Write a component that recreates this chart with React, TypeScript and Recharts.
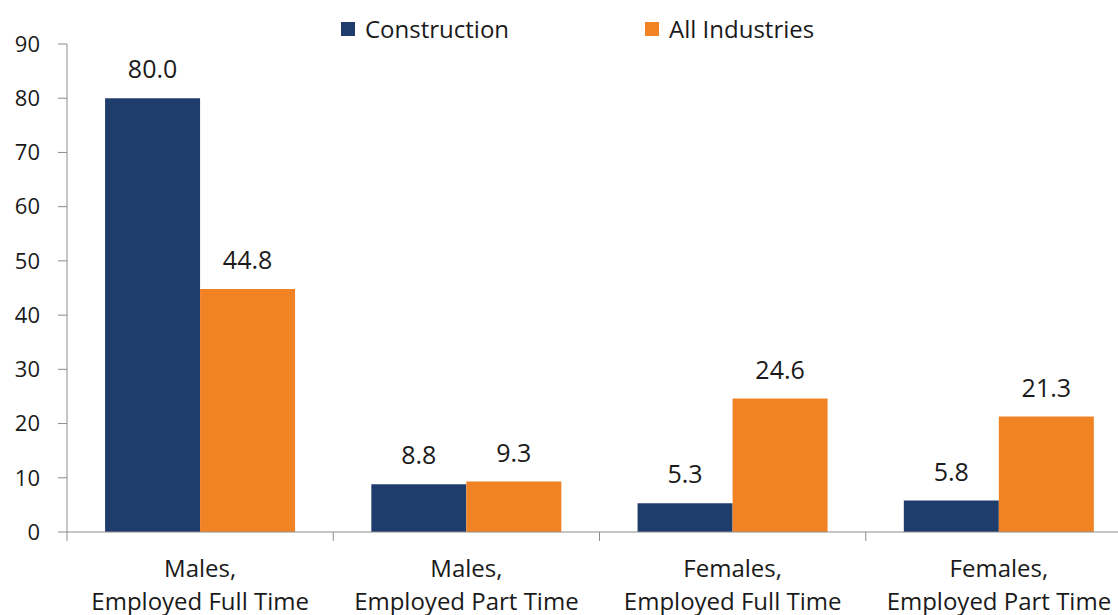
import React from "react";
import { BarChart, Bar, XAxis, YAxis, LabelList } from "recharts";

const categories = [
  ["Males,", "Employed Full Time"],
  ["Males,", "Employed Part Time"],
  ["Females,", "Employed Full Time"],
  ["Females,", "Employed Part Time"],
];
const construction = [80.0, 8.8, 5.3, 5.8];
const allIndustries = [44.8, 9.3, 24.6, 21.3];
const yTicks = [0, 10, 20, 30, 40, 50, 60, 70, 80, 90];

const series = [
  { key: "construction", name: "Construction", color: "#1F3D6C" },
  { key: "all", name: "All Industries", color: "#F28324" },
];

const FONT = "'Open Sans', sans-serif";
const AXIS = "#8C8C8C";
const TEXT = "#1A1A1A";

const data = categories.map((c, i) => ({
  cat: c.join(" "),
  construction: construction[i],
  all: allIndustries[i],
}));

// label at the category centre, tick marks at the category edges (Excel style)
const XTick = (props: any) => {
  const { x, y, payload, index, width } = props;
  const half = payload.offset || width / categories.length / 2;
  const [l1, l2] = categories[index];
  return (
    <g>
      <line x1={x - half} y1={y} x2={x - half} y2={y + 9} stroke={AXIS} />
      {index === categories.length - 1 && (
        <line x1={x + half} y1={y} x2={x + half} y2={y + 9} stroke={AXIS} />
      )}
      <text textAnchor="middle" fontFamily={FONT} fontSize={24} fill={TEXT}>
        <tspan x={x} y={y + 45}>{l1}</tspan>
        <tspan x={x} y={y + 78}>{l2}</tspan>
      </text>
    </g>
  );
};

export default function App() {
  return (
    <div style={{ position: "fixed", left: 0, top: 0, width: 1118, height: 615, overflow: "hidden", background: "#fff" }}>
      <div
        style={{
          position: "absolute",
          left: 341,
          top: 12,
          display: "flex",
          gap: 136,
          fontFamily: FONT,
          fontSize: 24,
          color: TEXT,
          whiteSpace: "nowrap",
        }}
      >
        {series.map((s) => (
          <div key={s.key} style={{ display: "flex", alignItems: "center" }}>
            <span style={{ width: 14, height: 14, background: s.color, marginRight: 10, display: "inline-block" }} />
            <span>{s.name}</span>
          </div>
        ))}
      </div>
      <BarChart
        width={1132}
        height={615}
        data={data}
        margin={{ top: 44, right: 0, left: 0, bottom: 0 }}
        barCategoryGap="14.3%"
        barGap={0}
      >
        <XAxis
          dataKey="cat"
          interval={0}
          height={83}
          tickSize={0}
          tickMargin={0}
          tickLine={false}
          axisLine={{ stroke: AXIS }}
          tick={<XTick />}
        />
        <YAxis
          domain={[0, 90]}
          ticks={yTicks}
          interval={0}
          width={67}
          tickSize={9}
          tickMargin={18}
          axisLine={{ stroke: AXIS }}
          tickLine={{ stroke: AXIS }}
          tick={{ fontFamily: FONT, fontSize: 22, fill: TEXT }}
        />
        {series.map((s) => (
          <Bar key={s.key} dataKey={s.key} name={s.name} fill={s.color} isAnimationActive={false}>
            <LabelList
              dataKey={s.key}
              position="top"
              offset={20}
              formatter={(v: any) => Number(v).toFixed(1)}
              style={{ fontFamily: FONT, fontSize: 25, fill: TEXT }}
            />
          </Bar>
        ))}
      </BarChart>
    </div>
  );
}
